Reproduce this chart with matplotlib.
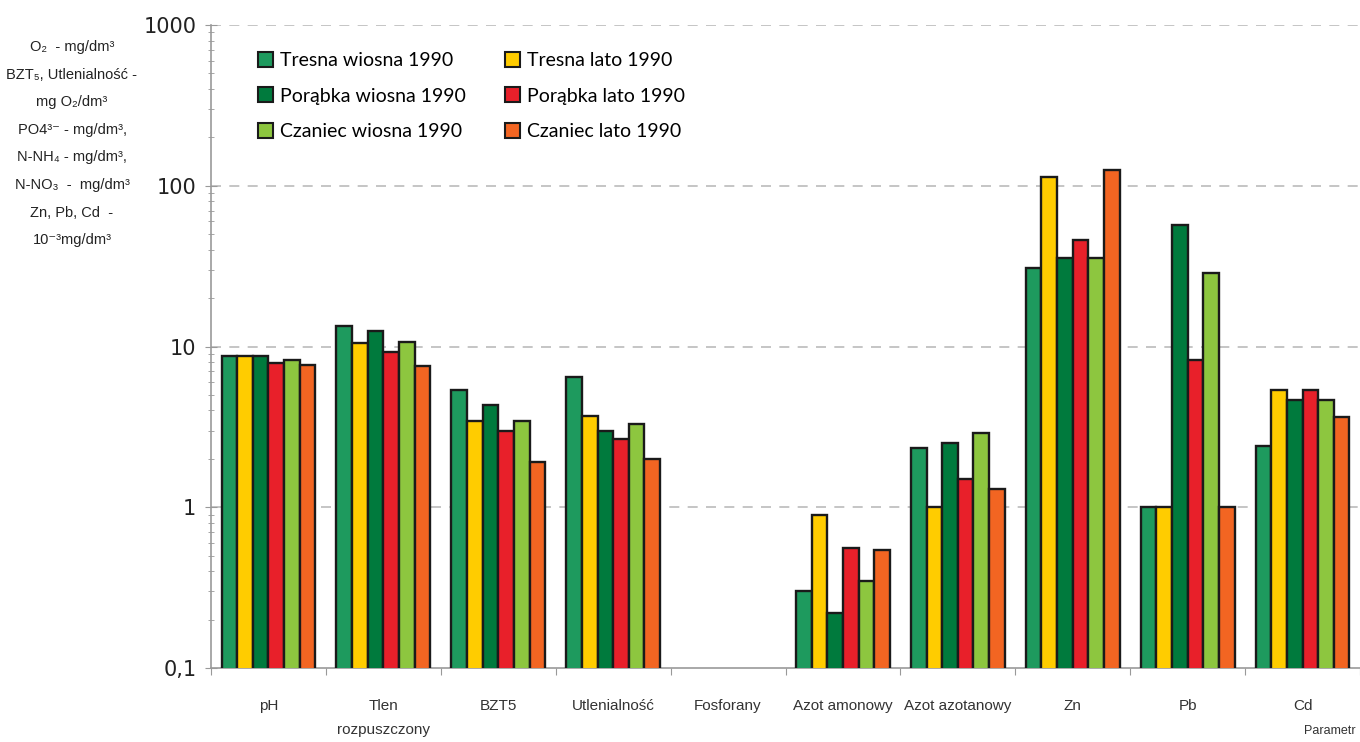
import numpy as np
import matplotlib.pyplot as plt
from matplotlib.patches import Patch

# parameters (x categories)
categories = ['pH', 'Tlen\nrozpuszczony', 'BZT5', 'Utlenialność', 'Fosforany',
              'Azot amonowy', 'Azot azotanowy', 'Zn', 'Pb', 'Cd']

series_names = ['Tresna wiosna 1990', 'Tresna lato 1990',
                'Porąbka wiosna 1990', 'Porąbka lato 1990',
                'Czaniec wiosna 1990', 'Czaniec lato 1990']

nan = np.nan
tresna_wiosna = [8.7, 13.5, 5.4, 6.5, nan, 0.30, 2.35, 31, 1.0, 2.4]
tresna_lato = [8.7, 10.5, 3.45, 3.7, nan, 0.90, 1.0, 113, 1.0, 5.4]
porabka_wiosna = [8.7, 12.4, 4.3, 3.0, nan, 0.22, 2.5, 35.5, 57, 4.65]
porabka_lato = [7.9, 9.3, 3.0, 2.65, nan, 0.56, 1.5, 46, 8.2, 5.4]
czaniec_wiosna = [8.2, 10.6, 3.45, 3.3, nan, 0.35, 2.9, 35.5, 28.5, 4.65]
czaniec_lato = [7.7, 7.6, 1.92, 2.0, nan, 0.54, 1.3, 125, 1.0, 3.65]

series = [tresna_wiosna, tresna_lato, porabka_wiosna,
          porabka_lato, czaniec_wiosna, czaniec_lato]
colors = ['#1E9A5E', '#FFCC00', '#007A3D', '#E8202A', '#8DC63F', '#F26522']

ylabel_lines = [
    'O\u2082  - mg/dm\u00b3',
    'BZT\u2085, Utlenialność -',
    'mg O\u2082/dm\u00b3',
    'PO4\u00b3\u207b - mg/dm\u00b3,',
    'N-NH\u2084 - mg/dm\u00b3,',
    'N-NO\u2083  -  mg/dm\u00b3',
    'Zn, Pb, Cd  -',
    '10\u207b\u00b3mg/dm\u00b3',
]

narrow = ['Liberation Sans', 'DejaVu Sans']

fig = plt.figure(figsize=(13.6, 7.42), dpi=100)
ax = fig.add_axes([211 / 1360, 1 - 668 / 742, 1 - 211 / 1360, (668 - 25) / 742])
ax.set_yscale('log')

x = np.arange(len(categories))
w = 0.136
for i, (vals, c) in enumerate(zip(series, colors)):
    ax.bar(x + (i - 2.5) * w, vals, width=w, color=c,
           edgecolor='#1a1a1a', linewidth=1.7, zorder=3)

ax.set_ylim(0.1, 1000)
ax.set_xlim(-0.5, 9.45)

ax.set_yticks([0.1, 1, 10, 100, 1000])
ax.set_yticklabels(['0,1', '1', '10', '100', '1000'], fontsize=15, color='#222222')
ax.tick_params(axis='y', which='major', direction='inout', length=9,
               color='#999999', pad=6)
ax.tick_params(axis='y', which='minor', direction='inout', length=5,
               color='#999999')

# boundary ticks on x, labels at group centres
ax.set_xticks(np.arange(-0.5, 9.6, 1))
ax.set_xticklabels([])
ax.tick_params(axis='x', which='major', direction='out', length=5, color='#999999')
ax.set_xticks(x, minor=True)
ax.set_xticklabels(categories, minor=True, family=narrow, fontsize=11,
                   color='#333333', linespacing=1.95)
ax.tick_params(axis='x', which='minor', length=0, pad=22)

for yv in [1, 10, 100, 1000]:
    ax.axhline(yv, color='#BBBBBB', lw=1.2, ls=(0, (6, 5)), zorder=1)

for s in ['top', 'right']:
    ax.spines[s].set_visible(False)
for s in ['left', 'bottom']:
    ax.spines[s].set_color('#999999')
    ax.spines[s].set_linewidth(1.2)

# legend: wiosna in left column, lato in right column
order = [0, 2, 4, 1, 3, 5]
handles = [Patch(facecolor=colors[k], edgecolor='#1a1a1a', linewidth=1.5) for k in order]
labels = [series_names[k] for k in order]
ax.legend(handles, labels, ncol=2, loc='upper left',
          bbox_to_anchor=(248 / 1360, 1 - 42 / 742), bbox_transform=fig.transFigure,
          frameon=False, handlelength=0.8, handleheight=0.8,
          handletextpad=0.35, columnspacing=2.0, labelspacing=0.95,
          borderpad=0, prop={'family': ['Lato', 'DejaVu Sans'], 'size': 14})

# y-axis description block
for k, line in enumerate(ylabel_lines):
    fig.text(72 / 1360, 1 - (47 + k * 27.6) / 742, line, ha='center', va='center',
             fontsize=10.5, family=narrow, color='#222222')

fig.text(1356 / 1360, 1 - 731 / 742, 'Parametr', ha='right', va='center',
         fontsize=9, family=narrow, color='#333333')

fig.savefig('out.png', dpi=100)
